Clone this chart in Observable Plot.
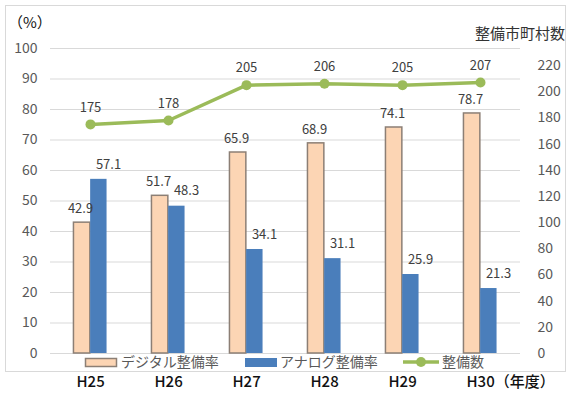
<!DOCTYPE html>
<html>
<head>
<meta charset="utf-8">
<script src="https://cdn.jsdelivr.net/npm/d3@7"></script>
<script src="https://cdn.jsdelivr.net/npm/@observablehq/plot@0.6"></script>
<style>
  html, body { margin: 0; padding: 0; background: #fff; }
</style>
</head>
<body>
<div id="chart"></div>
<script>
const years = ["H25", "H26", "H27", "H28", "H29", "H30"];
const digital = [42.9, 51.7, 65.9, 68.9, 74.1, 78.7];
const analog = [57.1, 48.3, 34.1, 31.1, 25.9, 21.3];
const municipalities = [175, 178, 205, 206, 205, 207];
const leftTicks = [0, 10, 20, 30, 40, 50, 60, 70, 80, 90, 100];
const rightTicks = [0, 20, 40, 60, 80, 100, 120, 140, 160, 180, 200, 220];
const seriesNames = ["デジタル整備率", "アナログ整備率", "整備数"];

// right axis (0–220) mapped onto left scale units
const k = 94.43 / 220;

const digitalData = years.map((y, i) => ({ year: y, v: digital[i] }));
const analogData = years.map((y, i) => ({ year: y, v: analog[i] }));
const lineData = years.map((y, i) => ({ year: y, v: municipalities[i], s: municipalities[i] * k }));

const peach = "#fcd5b4", peachStroke = "#8c7f75", blue = "#4a7ebb", green = "#9bbb59";
const font = "'Noto Sans CJK JP', 'Noto Sans', sans-serif";

const W = 570, H = 395;
const svg = Plot.plot({
  width: W,
  height: H,
  marginTop: 48,
  marginBottom: 42,
  marginLeft: 50,
  marginRight: 50,
  style: { fontFamily: font, fontSize: "14px", background: "#fff", color: "#595959" },
  x: { domain: years, padding: 0, label: null },
  y: { domain: [0, 100], label: null },
  marks: [
    Plot.gridY(leftTicks, { stroke: "#d9d9d9", strokeOpacity: 1, strokeWidth: 1 }),
    Plot.barY(digitalData, { x: "year", y: "v", fill: peach, stroke: peachStroke, strokeWidth: 1.5, insetLeft: 30.8, insetRight: 30.8, dx: -8.35 }),
    Plot.barY(analogData, { x: "year", y: "v", fill: blue, insetLeft: 30.8, insetRight: 30.8, dx: 8.35 }),
    Plot.text(digitalData, { x: "year", y: "v", text: d => d.v.toFixed(1), dy: -14, dx: -10, fontSize: 13, fill: "#404040" }),
    Plot.text(analogData, { x: "year", y: "v", text: d => d.v.toFixed(1), dy: -15, dx: 18, fontSize: 13, fill: "#404040" }),
    Plot.line(lineData, { x: "year", y: "s", stroke: green, strokeWidth: 3.5 }),
    Plot.dot(lineData, { x: "year", y: "s", r: 5, fill: green, stroke: "none" }),
    Plot.text(lineData, { x: "year", y: "s", text: d => String(d.v), dy: -17, fontSize: 13, fill: "#404040" }),
    Plot.axisY(leftTicks, { anchor: "left", tickSize: 0, tickPadding: 13, fontSize: 14, fill: "#595959", label: null }),
    Plot.axisY(rightTicks.map(v => v * k), { anchor: "right", tickSize: 0, tickPadding: 17, textAnchor: "start", fontSize: 14, fill: "#595959", label: null, tickFormat: d => String(Math.round(d / k)) }),
    Plot.axisX({ tickSize: 0, tickPadding: 23, fontSize: 15, fontWeight: 500, fill: "#111", textAnchor: "start", dx: -14, label: null, tickFormat: d => d === "H30" ? "H30（年度）" : d })
  ]
});

const s = d3.select(svg);
// outer chart border
s.insert("rect", ":first-child")
  .attr("x", 5.5).attr("y", 5.5).attr("width", 560).attr("height", 366)
  .attr("fill", "none").attr("stroke", "#d9d9d9").attr("stroke-width", 1);

// titles
s.append("text").attr("x", 8).attr("y", 28).attr("text-anchor", "start").attr("font-size", 15).attr("fill", "#111")
  .attr("font-family", font).text("（%）");
s.append("text").attr("x", 565).attr("y", 39).attr("text-anchor", "end").attr("font-size", 15).attr("fill", "#333")
  .attr("font-family", font).text("整備市町村数");

// legend
const lg = s.append("g").attr("font-family", font).attr("font-size", 14).attr("fill", "#595959").attr("text-anchor", "start");
lg.append("rect").attr("x", 85.5).attr("y", 358.5).attr("width", 31).attr("height", 8)
  .attr("fill", peach).attr("stroke", peachStroke).attr("stroke-width", 1.5);
lg.append("text").attr("x", 121).attr("y", 367).text(seriesNames[0]);
lg.append("rect").attr("x", 245).attr("y", 358).attr("width", 32).attr("height", 9).attr("fill", blue);
lg.append("text").attr("x", 280).attr("y", 367).text(seriesNames[1]);
lg.append("line").attr("x1", 403).attr("x2", 439).attr("y1", 362).attr("y2", 362)
  .attr("stroke", green).attr("stroke-width", 3.5);
lg.append("circle").attr("cx", 421).attr("cy", 362).attr("r", 5).attr("fill", green);
lg.append("text").attr("x", 442).attr("y", 367).text(seriesNames[2]);

document.getElementById("chart").appendChild(svg);
</script>
</body>
</html>
